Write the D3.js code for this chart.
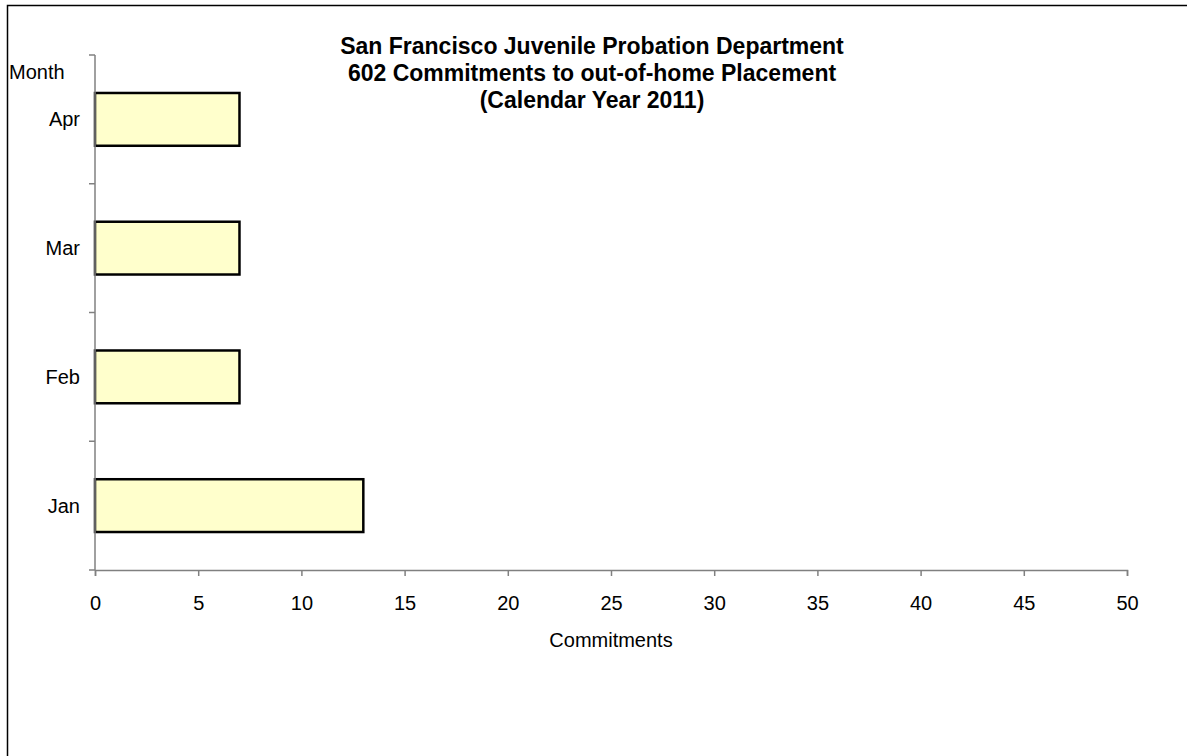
<!DOCTYPE html>
<html>
<head>
<meta charset="utf-8">
<script src="https://cdn.jsdelivr.net/npm/d3@7"></script>
<style>
  body { margin: 0; background: #fff; }
  text { font-family: "Liberation Sans", Arial, sans-serif; fill: #000; }
</style>
</head>
<body>
<svg id="chart" width="1187" height="756"></svg>
<script>
// Chart data
const months = ['Jan', 'Feb', 'Mar', 'Apr'];
const commitments = [13, 7, 7, 7];
const xTicks = [0, 5, 10, 15, 20, 25, 30, 35, 40, 45, 50];
const titleLines = [
  'San Francisco Juvenile Probation Department',
  '602 Commitments to out-of-home Placement',
  '(Calendar Year 2011)'
];

const svg = d3.select('#chart');
const margin = { left: 95, top: 55, right: 60, bottom: 186 };
const width = 1187 - margin.left - margin.right;
const height = 756 - margin.top - margin.bottom;
const labelSize = '20px';

// Outer frame (right and bottom edges fall off the picture)
svg.append('rect')
  .attr('x', 7.5).attr('y', 5.5)
  .attr('width', 1200).attr('height', 800)
  .attr('fill', 'none').attr('stroke', '#000').attr('stroke-width', 1.5);

const chart = svg.append('g')
  .attr('transform', `translate(${margin.left},${margin.top})`);

const xScale = d3.scaleLinear().domain([0, 50]).range([0, width]);
const yScale = d3.scaleBand().domain(months).range([height, 0]).paddingInner(0.59).paddingOuter(0.295);

// Bars
chart.selectAll('.bar')
  .data(months)
  .enter().append('rect')
  .attr('x', xScale(0))
  .attr('y', (d) => yScale(d))
  .attr('width', (d, i) => xScale(commitments[i]) - xScale(0))
  .attr('height', yScale.bandwidth())
  .attr('fill', '#ffffcc')
  .attr('stroke', '#000')
  .attr('stroke-width', 2.5);

// X axis
const xAxis = chart.append('g')
  .attr('transform', `translate(0,${height})`)
  .call(d3.axisBottom(xScale).tickValues(xTicks).tickSize(6).tickPadding(20));
xAxis.selectAll('text').style('font-size', labelSize);

// Y axis: ticks between categories, labels centred on bands
const bandStep = height / months.length;
const yAxis = chart.append('g');
yAxis.append('line')
  .attr('x1', 0).attr('x2', 0).attr('y1', 0).attr('y2', height)
  .attr('stroke', '#808080').attr('stroke-width', 1.5);
yAxis.selectAll('.tick')
  .data(d3.range(months.length + 1))
  .enter().append('line')
  .attr('x1', -6).attr('x2', 0)
  .attr('y1', (d) => d * bandStep).attr('y2', (d) => d * bandStep)
  .attr('stroke', '#808080').attr('stroke-width', 1.5);
yAxis.selectAll('.label')
  .data(months)
  .enter().append('text')
  .attr('x', -15)
  .attr('y', (d) => yScale(d) + yScale.bandwidth() / 2)
  .attr('dy', '0.35em')
  .attr('text-anchor', 'end')
  .style('font-size', labelSize)
  .text((d) => d);

xAxis.selectAll('.domain, line').attr('stroke', '#808080').attr('stroke-width', 1.5);

// Axis titles
svg.append('text')
  .attr('x', 9).attr('y', 79)
  .style('font-size', labelSize)
  .text('Month');

svg.append('text')
  .attr('x', 611).attr('y', 647)
  .attr('text-anchor', 'middle')
  .style('font-size', labelSize)
  .text('Commitments');

// Title
svg.append('g').selectAll('text')
  .data(titleLines)
  .enter().append('text')
  .attr('x', 592)
  .attr('y', (d, i) => 54 + i * 27)
  .attr('text-anchor', 'middle')
  .style('font-size', '23px')
  .style('font-weight', 'bold')
  .text((d) => d);
</script>
</body>
</html>
